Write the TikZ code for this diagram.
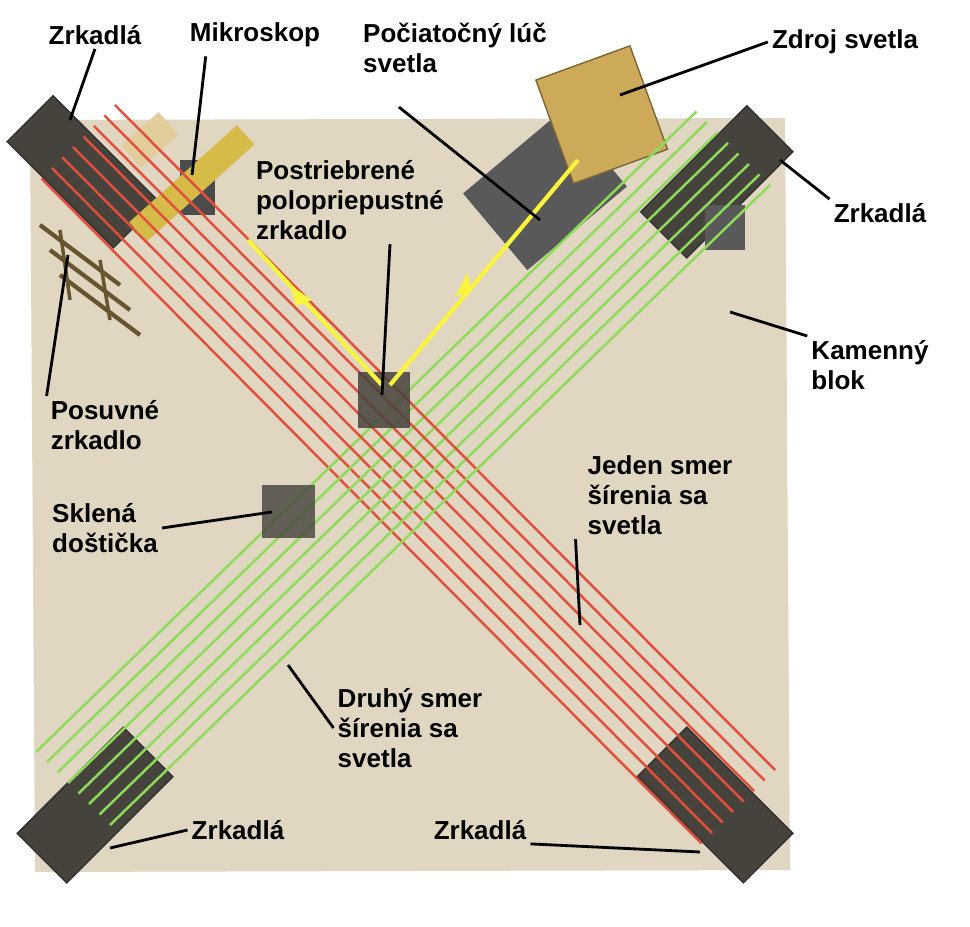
\documentclass[tikz,border=0pt]{standalone}
\usepackage{fontspec}
\setmainfont{Liberation Sans}
\usetikzlibrary{arrows.meta,positioning}
\definecolor{stone}{RGB}{224,214,193}
\definecolor{mirror}{RGB}{70,66,60}
\definecolor{redbeam}{RGB}{226,80,60}
\definecolor{greenbeam}{RGB}{140,220,90}
\definecolor{brass}{RGB}{205,170,90}
\definecolor{beamyellow}{RGB}{250,245,60}
\begin{document}
\begin{tikzpicture}[x=0.1mm, y=-0.1mm,
    lbl/.style={font=\bfseries\fontsize{7.4}{8.6}\selectfont, align=left, inner sep=1pt},
    lead/.style={draw, thick, black},
    mirrorbox/.style={fill=mirror, draw=black!80},
    redray/.style={draw=redbeam, line width=0.7pt},
    greenray/.style={draw=greenbeam, line width=0.7pt}
    ]

    % Background and stone block
    \useasboundingbox (0,0) rectangle (970,927);
    \fill[white] (0,0) rectangle (970,927);
    \fill[stone] (30,120) -- (785,118) -- (790,870) -- (35,872) -- cycle;

    % Mirrors in the corners
    \fill[mirrorbox, rotate around={-45:(85,170)}] (10,140) rectangle (160,205);
    \fill[mirrorbox, rotate around={45:(715,180)}] (640,150) rectangle (790,215);
    \fill[mirrorbox, rotate around={45:(95,805)}] (20,770) rectangle (170,840);
    \fill[mirrorbox, rotate around={-45:(715,805)}] (640,770) rectangle (790,840);
    \fill[black!65] (705,205) rectangle (745,250);

    % Light source and plate
    \fill[gray!70!black, rotate around={40:(545,190)}] (480,140) rectangle (610,240);
    \fill[brass, draw=brass!60!black, rotate around={20:(600,110)}] (550,60) rectangle (650,170);

    % Microscope
    \fill[gray!60!black] (180,160) rectangle (215,215);
    \fill[brass!80!yellow, rotate around={42:(190,185)}] (120,172) rectangle (265,198);
    \fill[brass!60!white, rotate around={42:(150,140)}] (125,125) rectangle (175,155);

    % Sliding mirror
    \foreach \k in {0,1,2} {
      \draw[brass!50!black, line width=1.2pt] (40+10*\k,225+25*\k) -- (120+10*\k,285+25*\k);
    }
    \draw[brass!50!black, line width=1pt] (60,230) -- (70,300);
    \draw[brass!50!black, line width=1pt] (100,260) -- (110,320);

    % Beams
    \foreach \t in {-55,-40,-25,-10,5,20,35,50} {
      \draw[redray] (80+0.7*\t,140-0.7*\t) -- (740+0.7*\t,805-0.7*\t);
      \draw[greenray] (75+0.7*\t,790+0.7*\t) -- (735+0.7*\t,150+0.7*\t);
    }

    % Beam splitter and glass plate
    \fill[mirror, opacity=0.85] (358,372) rectangle (410,428);
    \fill[mirror, opacity=0.8] (262,485) rectangle (315,538);

    % Yellow beams
    \draw[beamyellow, line width=1.2pt] (578,160) -- (390,385);
    \draw[beamyellow, line width=1.2pt] (382,385) -- (248,240);
    \fill[beamyellow] (470,290) -- (455,297) -- (468,272) -- cycle;
    \fill[beamyellow] (290,285) -- (312,300) -- (296,306) -- cycle;

    % Labels
    \node[lbl] (zrkTL) at (95,35) {Zrkadlá};
    \node[lbl] (mikro) at (255,35) {Mikroskop};
    \node[lbl] (pociat) at (455,48) {Počiatočný lúč\\svetla};
    \node[lbl] (zdroj) at (845,42) {Zdroj svetla};
    \node[lbl] (zrkTR) at (880,213) {Zrkadlá};
    \node[lbl] (poloprie) at (350,200) {Postriebrené\\polopriepustné\\zrkadlo};
    \node[lbl] (kamen) at (870,365) {Kamenný\\blok};
    \node[lbl] (posuv) at (105,425) {Posuvné\\zrkadlo};
    \node[lbl] (sklen) at (105,528) {Sklená\\doštička};
    \node[lbl] (jeden) at (660,495) {Jeden smer\\šírenia sa\\svetla};
    \node[lbl] (druhy) at (410,728) {Druhý smer\\šírenia sa\\svetla};
    \node[lbl] (zrkBL) at (238,830) {Zrkadlá};
    \node[lbl] (zrkBR) at (480,830) {Zrkadlá};

    % Leader lines
    \coordinate (pTL) at (70,120);
    \coordinate (pMik) at (192,175);
    \coordinate (pPoc) at (540,220);
    \coordinate (pZdr) at (620,95);
    \coordinate (pTR) at (780,160);
    \coordinate (pPol) at (382,395);
    \coordinate (pKam) at (730,312);
    \coordinate (pPos) at (68,255);
    \coordinate (pSkl) at (272,512);
    \coordinate (pJed) at (580,625);
    \coordinate (pDru) at (288,665);
    \coordinate (pBL) at (110,848);
    \coordinate (pBR) at (700,852);
    \draw[lead] (zrkTL.south) -- (pTL);
    \draw[lead] (mikro.south west) ++(20,5) -- (pMik);
    \draw[lead] (pociat.south west) ++(40,30) -- (pPoc);
    \draw[lead] (zdroj.west) -- (pZdr);
    \draw[lead] (zrkTR.north west) -- (pTR);
    \draw[lead] (poloprie.south) ++(40,0) -- (pPol);
    \draw[lead] (kamen.north west) -- (pKam);
    \draw[lead] (posuv.north west) -- (pPos);
    \draw[lead] (sklen.east) -- (pSkl);
    \draw[lead] (jeden.south west) ++(-8,0) -- (pJed);
    \draw[lead] (druhy.west) -- (pDru);
    \draw[lead] (zrkBL.west) -- (pBL);
    \draw[lead] (zrkBR.south east) -- (pBR);

\end{tikzpicture}
\end{document}
